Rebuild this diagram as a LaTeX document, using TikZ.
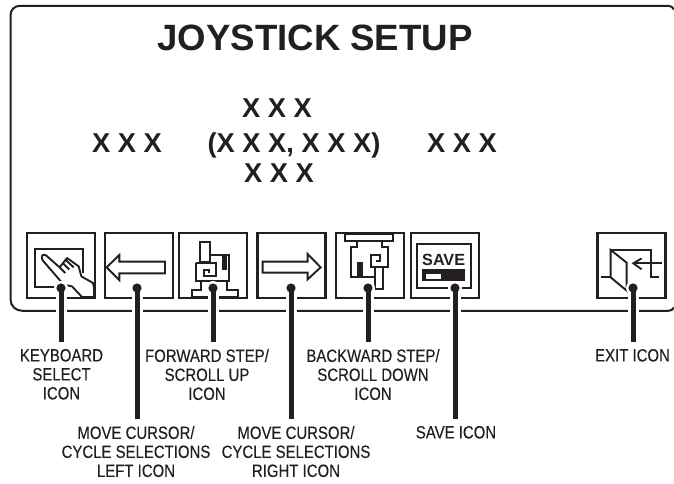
\documentclass[tikz,border=0pt]{standalone}
\usepackage{fontspec}
\setmainfont{Liberation Sans}
\newfontfamily\narrowf[FakeStretch=0.84,FakeBold=0.25]{Liberation Sans}
\definecolor{ink}{HTML}{231F20}
\tikzset{
  iconbox/.style={draw=ink,line width=2.3pt,minimum width=68pt,minimum height=65pt,inner sep=0pt,outer sep=0pt},
  glyph/.style={draw=ink,line width=1.9pt,line join=miter},
  solidink/.style={fill=ink,draw=none},
  leader/.style={draw=ink,line width=5pt},
  halo/.style={draw=white,line width=11pt},
  callout/.style={font=\narrowf\fontsize{17.8}{19}\selectfont,text=ink,align=center,anchor=north,inner sep=0pt,outer ysep=7pt},
  bigx/.style={font=\bfseries\fontsize{27.3}{30}\selectfont,text=ink,anchor=base,inner sep=0pt},
}
\begin{document}
\begin{tikzpicture}[x=1pt,y=-1pt]
\useasboundingbox (0,0) rectangle (674,483);
% screen frame
\draw[ink,line width=2pt] (674,9.5) .. controls (672.5,7) and (671,5.8) .. (668,5.8) -- (20,5.8)
  .. controls (14.5,5.8) and (10.5,9.8) .. (10.5,15.3) -- (10.5,299)
  .. controls (10.5,306) and (15.5,310.8) .. (22.5,310.8) -- (668,310.8)
  .. controls (671,310.8) and (672.5,310) .. (674,307.5);
% texts on the screen
\node[font=\bfseries\fontsize{36.6}{40}\selectfont,text=ink,anchor=base,inner sep=0pt] (title) at (315,50) {JOYSTICK SETUP};
\node[bigx] (xtop) at (277,117) {X X X};
\node[bigx] (xleft) at (127,152) {X X X};
\node[bigx] (xmid) at (294,152) {(X X X, X X X)};
\node[bigx] (xright) at (462,152) {X X X};
\node[bigx] (xbot) at (279,182) {X X X};
% icon boxes
\node[iconbox] (i1) at (61,265.5) {};
\node[iconbox] (i2) at (139,265.5) {};
\node[iconbox] (i3) at (213,265.5) {};
\node[iconbox] (i4) at (291.5,265.5) {};
\node[iconbox] (i5) at (370,265.5) {};
\node[iconbox] (i6) at (445,265.5) {};
\node[iconbox] (i7) at (631.5,265.5) {};
% keyboard select glyph
\begin{scope}[shift={(22,228)},scale=0.3333]
  \draw[glyph] (100,177) -- (40,177) -- (40,62) -- (182,62) -- (182,135);
  \draw[glyph,fill=white,line join=round] (72,82) -- (113,118) -- (135,90) -- (170,115) -- (178,145) -- (213,165) -- (216,178) -- (216,207) -- (180,207) -- (150,175) -- (125,170) -- (62,97) .. controls (55,85) and (62,76) .. (72,82) -- cycle;
  \draw[glyph] (113,118) -- (130,135) (122,105) -- (142,125) (130,95) -- (155,118);
\end{scope}
% left arrow glyph
\begin{scope}[shift={(0,220)},scale=0.3333]
  \draw[glyph] (320,142) -- (358,105) -- (358,125) -- (495,125) -- (495,160) -- (358,160) -- (358,180) -- cycle;
\end{scope}
% forward step glyph
\begin{scope}[shift={(175,228)},scale=0.3333]
  \draw[glyph] (75,102) -- (75,42) -- (105,42) -- (105,102) -- cycle;
  \draw[glyph] (62,105) -- (122,105) -- (122,145) -- (88,145) -- (88,125) -- (102,125) -- (102,135);
  \draw[glyph] (105,80) -- (162,80) -- (162,158) -- (62,158) -- (62,105);
  \fill[solidink] (142,85) rectangle (156,125);
  \draw[glyph] (78,158) -- (78,185) -- (50,185) -- (50,208) -- (190,208) -- (190,185) -- (155,185) -- (155,158);
\end{scope}
% right arrow glyph
\begin{scope}[shift={(240,220)},scale=0.3333]
  \draw[glyph] (242,142) -- (203,102) -- (203,125) -- (68,125) -- (68,158) -- (203,158) -- (203,178) -- cycle;
\end{scope}
% backward step glyph
\begin{scope}[shift={(330,228)},scale=0.3333]
  \draw[glyph] (45,18) rectangle (190,40);
  \fill[solidink] (45,13) rectangle (190,22);
  \draw[glyph] (80,40) -- (80,57) -- (62,57) -- (62,147) -- (135,147);
  \draw[glyph] (155,40) -- (155,57) -- (175,57) -- (175,118) -- (122,118) -- (122,82) -- (150,82) -- (150,100) -- (138,100);
  \draw[glyph] (135,118) -- (135,183) -- (160,183) -- (160,118);
  \fill[solidink] (82,103) rectangle (98,147);
\end{scope}
% save glyph
\begin{scope}[shift={(240,220)},scale=0.3333]
  \draw[glyph] (530,72) rectangle (693,203);
  \fill[solidink] (545,148) rectangle (675,183);
  \fill[white] (557,163) rectangle (602,177);
  \node[font=\bfseries\fontsize{16.2}{17}\selectfont,text=ink,anchor=base,inner sep=0pt] (savetxt) at (611,135) {SAVE};
\end{scope}
% exit glyph
\begin{scope}[shift={(560,220)},scale=0.3333]
  \draw[glyph] (122,172) -- (152,172) -- (152,90) -- (272,90) -- (272,172) -- (298,172);
  \draw[glyph,fill=white] (152,90) -- (200,128) -- (200,212) -- (152,172) -- cycle;
  \draw[glyph] (307,130) -- (222,130);
  \draw[glyph] (245,115) -- (220,130) -- (245,148);
\end{scope}
% leader anchors
\coordinate (d1) at (61,288);
\coordinate (d2) at (137,288);
\coordinate (d3) at (213,288);
\coordinate (d4) at (291,288);
\coordinate (d5) at (368,288);
\coordinate (d6) at (455,288);
\coordinate (d7) at (633,288);
% labels
\node[callout] (l1) at (61.5,342) {KEYBOARD\\SELECT\\ICON};
\node[callout] (l2) at (136,419) {MOVE CURSOR/\\CYCLE SELECTIONS\\LEFT ICON};
\node[callout] (l3) at (207,342) {FORWARD STEP/\\SCROLL UP\\ICON};
\node[callout] (l4) at (296,419) {MOVE CURSOR/\\CYCLE SELECTIONS\\RIGHT ICON};
\node[callout] (l5) at (373,342) {BACKWARD STEP/\\SCROLL DOWN\\ICON};
\node[callout] (l6) at (456,419) {SAVE ICON};
\node[callout] (l7) at (632.5,342) {EXIT ICON};
% leaders
\foreach \d/\l in {d1/l1,d2/l2,d3/l3,d4/l4,d5/l5,d6/l6,d7/l7}{
  \fill[white] (\d) circle (7pt);
  \draw[halo] (\d) -- (\d |- 0,313);
  \fill[ink] (\d) circle (4.6pt);
  \draw[leader] (\d) -- (\d |- \l.north);
}
\end{tikzpicture}
\end{document}
